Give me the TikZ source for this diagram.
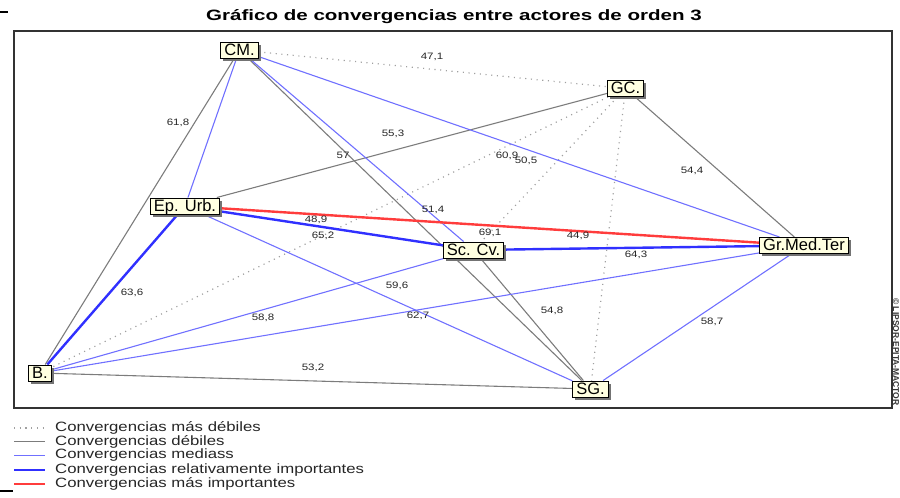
\documentclass[tikz,border=0pt]{standalone}
\usepackage{fontspec}
\setmainfont{Liberation Sans}
\newfontfamily\widefont[FakeStretch=1.24]{Liberation Sans}
\newfontfamily\titlefont[FakeStretch=1.37]{Liberation Sans}
\usetikzlibrary{shadows,backgrounds}

\definecolor{cream}{HTML}{FFFFE1}
\definecolor{medblue}{HTML}{7070FF}
\definecolor{strongblue}{HTML}{3030FF}
\definecolor{strongred}{HTML}{FF3C3C}
\definecolor{weakgray}{HTML}{7C7C7C}
\definecolor{dotgray}{HTML}{A0A0A0}

\tikzset{
    actor/.style={draw=black, line width=1pt, fill=cream, inner xsep=3.5pt, inner ysep=1pt,
        text height=12pt, text depth=2pt, font=\fontsize{16.5}{16.5}\selectfont,
        drop shadow={shadow xshift=2.5pt, shadow yshift=-2.5pt, fill=black!55, opacity=1}},
    lbl/.style={inner sep=0pt, text=black!85, font=\widefont\fontsize{9.3}{9.3}\selectfont},
    legtext/.style={inner sep=0pt, anchor=west, text=black!85, font=\widefont\fontsize{13.5}{13.5}\selectfont},
    masdebil/.style={dotgray, line width=1.2pt, dash pattern=on 1.1pt off 4.6pt},
    debil/.style={weakgray, line width=1.1pt},
    media/.style={medblue, line width=1.1pt},
    relimp/.style={strongblue, line width=2.4pt},
    masimp/.style={strongred, line width=2.4pt}
}

\begin{document}
\begin{tikzpicture}[x=1pt,y=-1pt]
    \useasboundingbox (0,0) rectangle (900,498);

    % Title and frame.
    \node[font=\titlefont\bfseries\fontsize{15}{15}\selectfont] (title) at (454,17)
        {Gráfico de convergencias entre actores de orden 3};
    \draw[line width=1.3pt, black!80] (14,31) rectangle (892,408);
    \draw[line width=1.5pt] (0,12) -- (8,12);
    \draw[line width=1.5pt] (0,491) -- (13,491);

    % Actors.
    \node[actor] (cm)  at (239.5,50)   {CM.};
    \node[actor] (gc)  at (625.5,88.5) {GC.};
    \node[actor] (ep)  at (185,206)    {Ep. Urb.};
    \node[actor] (sc)  at (473.5,250)  {Sc. Cv.};
    \node[actor] (gmt) at (804,245.5)  {Gr.Med.Ter};
    \node[actor] (b)   at (40,373)     {B.};
    \node[actor] (sg)  at (590.5,389)  {SG.};

    % Convergences.
    \begin{scope}[on background layer]
        \foreach \u/\v in {cm/gc, gc/b, gc/sc, gc/sg}
            \draw[masdebil] (\u) -- (\v);
        \foreach \u/\v in {cm/b, cm/sg, gc/ep, gc/gmt, sc/sg, b/sg}
            \draw[debil] (\u) -- (\v);
        \foreach \u/\v in {cm/ep, cm/gmt, cm/sc, ep/sg, sc/b, b/gmt, gmt/sg}
            \draw[media] (\u) -- (\v);
        \foreach \u/\v in {ep/b, ep/sc, sc/gmt}
            \draw[relimp] (\u) -- (\v);
        \draw[masimp] (ep) -- (gmt);
    \end{scope}

    % Values.
    \foreach \t/\p [count=\i] in {{47,1}/{432,57}, {61,8}/{178,123}, {55,3}/{393,134},
            {57}/{343,155}, {60,9}/{507,156}, {50,5}/{526,161}, {51,4}/{433,210},
            {48,9}/{316,220}, {65,2}/{323,236}, {69,1}/{490,233}, {44,9}/{578,236},
            {64,3}/{636,255}, {54,4}/{692,171}, {63,6}/{132,293}, {59,6}/{397,286},
            {58,8}/{263,318}, {62,7}/{418,316}, {54,8}/{552,311}, {58,7}/{712,322},
            {53,2}/{313,368}}
        \node[lbl] (val\i) at (\p) {\t};

    % Legend.
    \foreach \s/\t/\y [count=\i] in {masdebil/Convergencias más débiles/428,
            debil/Convergencias débiles/441.5,
            media/Convergencias mediass/455.5,
            relimp/Convergencias relativamente importantes/470,
            masimp/Convergencias más importantes/484}
    {
        \draw[\s] (14,\y) -- (45,\y);
        \node[legtext] (leg\i) at (55,\y) {\t};
    }

    \node[rotate=-90, text=black!80, font=\bfseries\fontsize{8.5}{8.5}\selectfont] (copy) at (896,352)
        {© LIPSOR-EPITA-MACTOR};
\end{tikzpicture}
\end{document}
